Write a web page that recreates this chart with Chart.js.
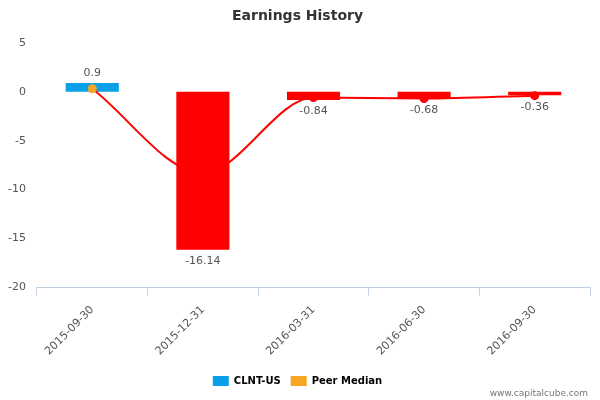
<!DOCTYPE html>
<html><head><meta charset="utf-8">
<script src="https://cdn.jsdelivr.net/npm/chart.js@4"></script>
<style>body{margin:0;background:#fff}#w{position:relative;width:600px;height:400px}</style>
</head><body><div id="w"><canvas id="c" width="600" height="400"></canvas></div>
<script>
const categories=["2015-09-30","2015-12-31","2016-03-31","2016-06-30","2016-09-30"];
const clntValues=[0.9,-16.14,-0.84,-0.68,-0.36];
const peerMedian=[0.3,-8.3,-0.6,-0.7,-0.4];
const yTicks=[5,0,-5,-10,-15,-20];
const barColors=clntValues.map(v=>v>=0?'#0aa0e8':'#ff0000');
const ptColors=peerMedian.map((v,i)=>clntValues[i]>=0?'#f5a623':'#ff0000');
const labelPlugin={id:'lbl',afterDatasetsDraw(ch){const ctx=ch.ctx;const m=ch.getDatasetMeta(1);ctx.save();ctx.font='11px "DejaVu Sans"';ctx.fillStyle='#555';ctx.textAlign='center';
m.data.forEach((b,i)=>{const v=clntValues[i];if(v>=0){ctx.textBaseline='bottom';ctx.fillText(String(v),b.x,b.y-4);}else{ctx.textBaseline='top';ctx.fillText(String(v),b.x,Math.max(b.y,b.base)+6);}});
ctx.font='9px "DejaVu Sans"';ctx.fillStyle='#777';ctx.textAlign='right';ctx.textBaseline='alphabetic';ctx.fillText('www.capitalcube.com',588,396);ctx.restore();}};
new Chart(document.getElementById('c'),{
data:{labels:categories,datasets:[
{type:'line',label:'Peer Median',data:peerMedian,borderColor:'#ff0000',borderWidth:2,tension:0.4,cubicInterpolationMode:'monotone',pointBackgroundColor:ptColors,pointBorderColor:ptColors,pointRadius:3.5,backgroundColor:'#f5a623',order:0},
{type:'bar',label:'CLNT-US',data:clntValues,backgroundColor:barColors,barPercentage:0.48,categoryPercentage:1,order:1}]},
options:{responsive:false,animation:false,
layout:{padding:{left:5,right:10,top:0,bottom:4}},
plugins:{title:{display:true,text:'Earnings History',color:'#333',font:{family:'DejaVu Sans',size:14,weight:'bold'},padding:{top:8,bottom:18}},
legend:{position:'bottom',labels:{font:{family:'DejaVu Sans',size:10,weight:'bold'},color:'#333',boxWidth:16,boxHeight:10,
generateLabels(){return[{text:'CLNT-US',fillStyle:'#0aa0e8',strokeStyle:'#0aa0e8',lineWidth:0,datasetIndex:1},{text:'Peer Median',fillStyle:'#f5a623',strokeStyle:'#f5a623',lineWidth:0,datasetIndex:0}]}}},
tooltip:{enabled:false}},
scales:{x:{grid:{display:true,drawOnChartArea:false,offset:true,color:'#c0d0e0',tickLength:8},border:{color:'#c0d0e0'},ticks:{padding:8,color:'#555',font:{family:'DejaVu Sans',size:11},maxRotation:45,minRotation:45}},
y:{min:-20,max:5,afterBuildTicks(a){a.ticks=yTicks.map(v=>({value:v}));},grid:{display:false},border:{display:false},ticks:{color:'#555',font:{family:'DejaVu Sans',size:11}}}}},
plugins:[labelPlugin]});
</script></body></html>
